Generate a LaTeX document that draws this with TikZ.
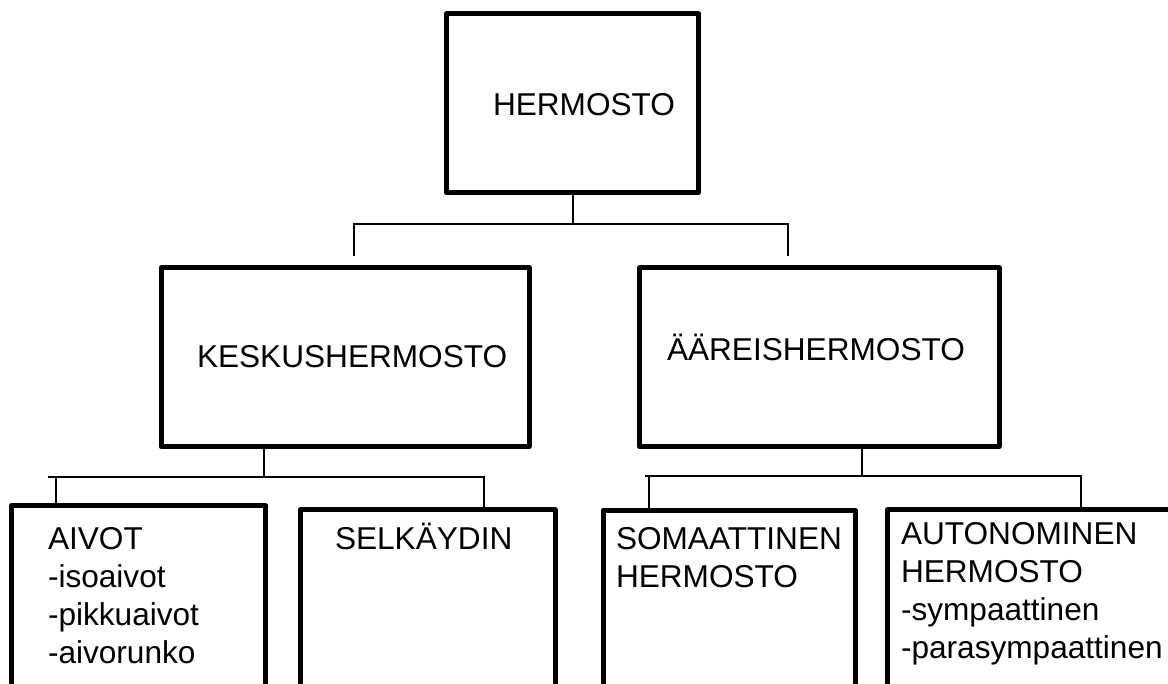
\documentclass[tikz,border=0pt]{standalone}
\usepackage{fontspec}
\setmainfont{Liberation Sans}
\begin{document}
\begin{tikzpicture}[x=1pt,y=-1pt,
  box/.style={draw=black, line width=5pt, line join=round, rectangle, inner sep=0pt, outer sep=0pt},
  conn/.style={draw=black, line width=2pt},
  lbl/.style={anchor=base west, inner sep=0pt, outer sep=0pt, align=left, font=\fontsize{31.6}{38}\selectfont, text=black}]
\useasboundingbox (0,0) rectangle (1168,684);
\fill[white] (0,0) rectangle (1168,684);
\clip (0,0) rectangle (1168,684);

% boxes
\node[box, minimum width=252pt, minimum height=178.5pt] (top) at (572.5,103.25) {};
\node[box, minimum width=368pt, minimum height=178.5pt] (keskus) at (345,357.25) {};
\node[box, minimum width=359.3pt, minimum height=178.5pt] (aareis) at (819.35,357.25) {};
\node[box, minimum width=254.1pt, minimum height=254.2pt] (aivot) at (138.75,632.9) {};
\node[box, minimum width=255pt, minimum height=250pt] (selka) at (427.5,635) {};
\node[box, minimum width=252.8pt, minimum height=249.7pt] (soma) at (729.4,635.15) {};
\node[box, minimum width=312.3pt, minimum height=250.3pt] (auto) at (1043.85,634.85) {};

% texts (base anchor = baseline of the last line)
\node[lbl] (tTop) at (493,115.7) {HERMOSTO};
\node[lbl] (tKesk) at (197,368) {KESKUSHERMOSTO};
\node[lbl] (tAar) at (667,361) {ÄÄREISHERMOSTO};
\node[lbl] (tAiv) at (48,663) {AIVOT\\-isoaivot\\-pikkuaivot\\-aivorunko};
\node[lbl] (tSel) at (335,549) {SELKÄYDIN};
\node[lbl] (tSom) at (616,587) {SOMAATTINEN\\HERMOSTO};
\node[lbl] (tAut) at (901,658) {AUTONOMINEN\\HERMOSTO\\-sympaattinen\\-parasympaattinen};

% top connector
\coordinate (s1) at (573,192);
\coordinate (b1L) at (354,224);
\coordinate (b1R) at (788,224);
\coordinate (e1L) at (354,256);
\coordinate (e1R) at (788,256);
\draw[conn] (s1) -- (s1 |- b1L);
\draw[conn] (e1L) -- (b1L) -- (b1R) -- (e1R);

% lower left connector
\coordinate (s2) at (263.5,446);
\coordinate (b2L) at (48,477);
\coordinate (b2R) at (484,477);
\coordinate (v2L) at (56,477);
\draw[conn] (s2) -- (s2 |- b2L);
\draw[conn] (b2L) -- (b2R) -- (b2R |- selka.north);
\draw[conn] (v2L) -- (v2L |- aivot.north);

% lower right connector
\coordinate (s3) at (862.3,446);
\coordinate (b3L) at (645,476);
\coordinate (b3R) at (1081,476);
\coordinate (v3L) at (649,476);
\draw[conn] (s3) -- (s3 |- b3L);
\draw[conn] (b3L) -- (b3R) -- (b3R |- auto.north);
\draw[conn] (v3L) -- (v3L |- soma.north);
\end{tikzpicture}
\end{document}
